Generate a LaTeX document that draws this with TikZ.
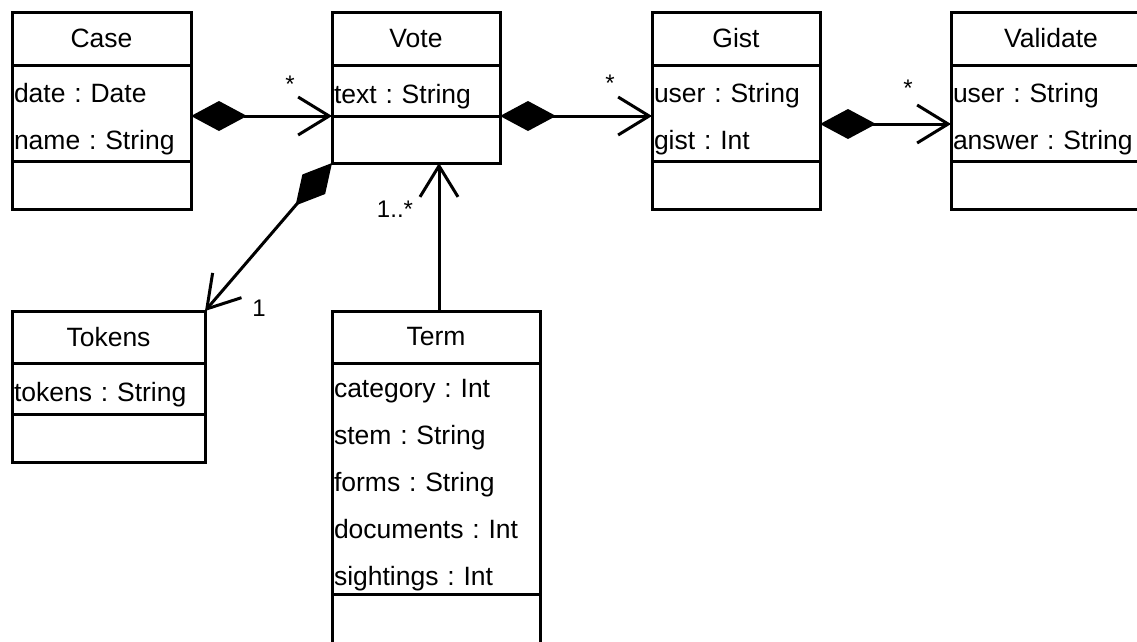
\documentclass[tikz,border=0pt]{standalone}
\usepackage{fontspec}
\setmainfont{Liberation Sans}
\usetikzlibrary{arrows.meta, positioning}
\frenchspacing

\begin{document}
\begin{tikzpicture}[x=1pt, y=-1pt,
    part/.style={draw, line width=3pt, inner sep=0pt, outer sep=0pt, font=\fontsize{26.5}{47}\selectfont},
    head/.style={part, minimum height=53pt},
    attrs/.style={part, align=left, inner xsep=2pt, execute at begin node={\rule{0pt}{31pt}}},
    ops/.style={part},
    mult/.style={anchor=base, inner sep=0pt, font=\fontsize{24}{28}\selectfont},
    comp/.style={line width=3pt, {Diamond[length=56pt,width=30pt]}-{Straight Barb[length=31pt,width=38pt]}},
    assoc/.style={line width=3pt, -{Straight Barb[length=31pt,width=38pt]}}]
    \useasboundingbox (0,0) rectangle (1137,641);
    \clip (0,0) rectangle (1137,641);

    % Top row of classes
    \node[head, anchor=north west, minimum width=179pt] (case head) at (12,12) {Case};
    \node[attrs, text width=175pt, minimum height=96pt, below=0pt of case head] (case attrs) {date : Date\\name : String};
    \node[ops, minimum width=179pt, minimum height=48pt, below=0pt of case attrs] (case ops) {};

    \node[head, anchor=north west, minimum width=168pt] (vote head) at (332,12) {Vote};
    \node[attrs, text width=164pt, minimum height=51pt, below=0pt of vote head] (vote attrs) {text : String};
    \node[ops, minimum width=168pt, minimum height=47pt, below=0pt of vote attrs] (vote ops) {};

    \node[head, anchor=north west, minimum width=168pt] (gist head) at (652,12) {Gist};
    \node[attrs, text width=164pt, minimum height=96pt, below=0pt of gist head] (gist attrs) {user : String\\gist : Int};
    \node[ops, minimum width=168pt, minimum height=48pt, below=0pt of gist attrs] (gist ops) {};

    \node[head, anchor=north west, minimum width=200pt] (validate head) at (951,12) {Validate};
    \node[attrs, text width=196pt, minimum height=96pt, below=0pt of validate head] (validate attrs) {user : String\\answer : String};
    \node[ops, minimum width=200pt, minimum height=48pt, below=0pt of validate attrs] (validate ops) {};

    % Bottom row of classes
    \node[head, anchor=north west, minimum width=193pt, minimum height=52pt] (tokens head) at (12,311) {Tokens};
    \node[attrs, text width=189pt, minimum height=51pt, below=0pt of tokens head] (tokens attrs) {tokens : String};
    \node[ops, minimum width=193pt, minimum height=48pt, below=0pt of tokens attrs] (tokens ops) {};

    \node[head, anchor=north west, minimum width=208pt, minimum height=52pt] (term head) at (332,311) {Term};
    \node[attrs, text width=204pt, minimum height=231pt, below=0pt of term head] (term attrs) {category : Int\\stem : String\\forms : String\\documents : Int\\sightings : Int};
    \node[ops, minimum width=208pt, minimum height=60pt, below=0pt of term attrs] (term ops) {};

    % Associations
    \draw[comp] (case attrs.east |- vote ops.north) -- (vote ops.north west);
    \draw[comp] (vote ops.north east) -- (vote ops.north east -| gist attrs.west);
    \draw[comp] ([yshift=-11pt]gist attrs.east) -- ([yshift=-11pt]validate attrs.west);
    \draw[comp] (vote ops.south west) -- (tokens head.north east);
    \draw[assoc] ([xshift=3pt]term head.north) -- ([xshift=3pt]term head.north |- vote ops.south);

    % Multiplicities
    \node[mult] (case vote) at (290,92) {*};
    \node[mult] (vote gist) at (610,91) {*};
    \node[mult] (gist validate) at (908,96) {*};
    \node[mult] (vote tokens) at (259,316) {1};
    \node[mult] (term vote) at (395,217) {1..*};
\end{tikzpicture}
\end{document}
